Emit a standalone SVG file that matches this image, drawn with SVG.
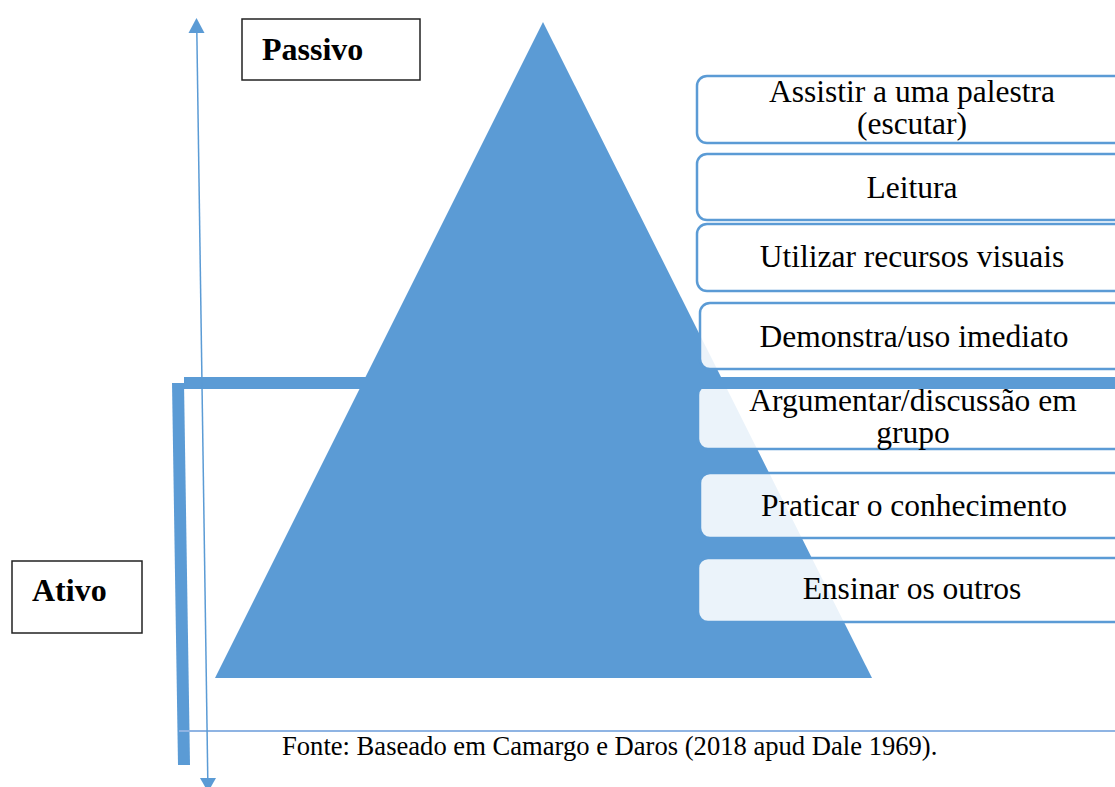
<svg xmlns="http://www.w3.org/2000/svg" width="1115" height="787" viewBox="0 0 1115 787">
<defs>
<style>
.box{fill:#ffffff;fill-opacity:0.88;stroke:#5b9bd5;stroke-width:2.5}
.bt{font-family:"Liberation Serif","Times New Roman",serif;font-size:31.5px;fill:#000;text-anchor:middle}
.lab{font-family:"Liberation Serif","Times New Roman",serif;font-size:32px;font-weight:bold;fill:#000}
.lbox{fill:#fff;stroke:#222;stroke-width:1.5}
.bar{fill:#5b9bd5}
.ah{fill:#5b9bd5}
</style>
</defs>
<rect width="1115" height="787" fill="#fff"/>
<g id="pyramid">
<polygon points="543,22 872,678 215,678" fill="#5b9bd5"/>
</g>
<g id="n1"><rect class="box" x="697" y="76" width="432" height="67" rx="10"/>
<text class="bt" x="912" y="102">Assistir a uma palestra</text>
<text class="bt" x="912" y="134">(escutar)</text></g>
<g id="n2"><rect class="box" x="697" y="154" width="432" height="66" rx="10"/>
<text class="bt" x="912" y="198">Leitura</text></g>
<g id="n3"><rect class="box" x="697" y="224" width="432" height="67" rx="10"/>
<text class="bt" x="912" y="267">Utilizar recursos visuais</text></g>
<g id="n4"><rect class="box" x="700" y="303" width="430" height="66" rx="10"/>
<text class="bt" x="914" y="347">Demonstra/uso imediato</text></g>
<g id="n5"><rect class="box" x="698" y="385" width="432" height="64" rx="10"/>
<text class="bt" x="913" y="411">Argumentar/discussão em</text>
<text class="bt" x="913" y="443">grupo</text></g>
<g id="n6"><rect class="box" x="700" y="473" width="430" height="65" rx="10"/>
<text class="bt" x="914" y="516">Praticar o conhecimento</text></g>
<g id="n7"><rect class="box" x="698" y="558" width="432" height="64" rx="10"/>
<text class="bt" x="912" y="599">Ensinar os outros</text></g>
<g id="connectors">
<polygon class="bar" points="184,377 1115,377 1115,389 184,389"/>
<polygon class="bar" points="172,383 184,383 190,765 178,765"/>
<line x1="179" y1="731" x2="1115" y2="731" stroke="#8fb4e3" stroke-width="2"/>
<line x1="196.8" y1="30" x2="207.8" y2="780" stroke="#5b9bd5" stroke-width="1.5"/>
<polygon class="ah" points="196.5,18 204.5,33 188.5,33"/>
<polygon class="ah" points="208,792 200,778 216,778"/>
</g>
<g id="passivo"><rect class="lbox" x="242" y="19" width="178" height="61"/>
<text class="lab" x="262" y="60">Passivo</text></g>
<g id="ativo"><rect class="lbox" x="12" y="561" width="130" height="72"/>
<text class="lab" x="32" y="601">Ativo</text></g>
<g id="caption">
<text x="282" y="755" font-family="Liberation Serif,Times New Roman,serif" font-size="26.6" fill="#000">Fonte: Baseado em Camargo e Daros (2018 apud Dale 1969).</text>
</g>
</svg>
